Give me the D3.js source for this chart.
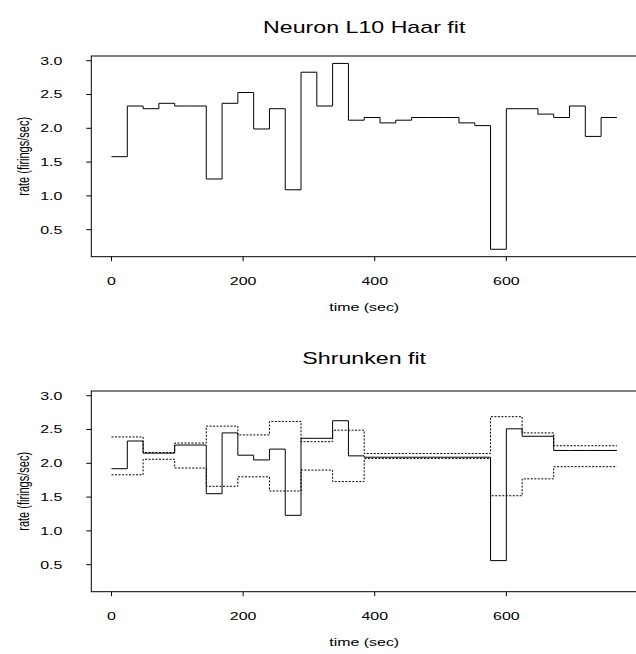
<!DOCTYPE html>
<html>
<head>
<meta charset="utf-8">
<script src="https://cdn.jsdelivr.net/npm/d3@7"></script>
<style>
  body { margin: 0; background: #fff; }
  svg { display: block; font-family: "Liberation Sans", Arial, sans-serif; }
  .axis-line, .tick-mark { stroke: #000; stroke-width: 1; fill: none; }
  .fit { fill: none; stroke: #000; stroke-width: 1; }
  .band { fill: none; stroke: #000; stroke-width: 1; stroke-dasharray: 2,1.5; }
</style>
</head>
<body>
<svg id="chart" width="636" height="654"></svg>
<script>
// bin edges (sec), 32 bins
const times = [0, 24, 48, 72, 96, 120, 144, 168, 192, 216, 240, 264, 288, 312, 336, 360,
  384, 408, 432, 456, 480, 504, 528, 552, 576, 600, 624, 648, 672, 696, 720, 744, 768];

const haarFit = [1.58, 2.33, 2.29, 2.37, 2.33, 2.33, 1.25, 2.37, 2.53, 1.99, 2.29, 1.09,
  2.83, 2.33, 2.96, 2.12, 2.16, 2.08, 2.12, 2.16, 2.16, 2.16, 2.08, 2.04,
  0.21, 2.29, 2.29, 2.21, 2.16, 2.33, 1.88, 2.16];

const shrunkFit = [1.92, 2.33, 2.15, 2.15, 2.27, 2.27, 1.55, 2.45, 2.12, 2.05, 2.21, 1.23,
  2.37, 2.37, 2.63, 2.11, 2.09, 2.09, 2.09, 2.09, 2.09, 2.09, 2.09, 2.09,
  0.56, 2.51, 2.40, 2.40, 2.19, 2.19, 2.19, 2.19];

const shrunkUpper = [2.39, 2.39, 2.16, 2.16, 2.30, 2.30, 2.55, 2.55, 2.42, 2.42, 2.62, 2.62,
  2.32, 2.32, 2.49, 2.49, 2.145, 2.145, 2.145, 2.145, 2.145, 2.145, 2.145, 2.145,
  2.69, 2.69, 2.45, 2.45, 2.26, 2.26, 2.26, 2.26];

const shrunkLower = [1.83, 1.83, 2.06, 2.06, 1.93, 1.93, 1.66, 1.66, 1.80, 1.80, 1.59, 1.59,
  1.90, 1.90, 1.73, 1.73, 2.07, 2.07, 2.07, 2.07, 2.07, 2.07, 2.07, 2.07,
  1.52, 1.52, 1.77, 1.77, 1.95, 1.95, 1.95, 1.95];

const xTicks = [0, 200, 400, 600];
const yTicks = [0.5, 1.0, 1.5, 2.0, 2.5, 3.0];

const SX = 1.45; // picture is stretched sideways

// R style limits: range padded by 4%
function padded(ext) {
  const d = (ext[1] - ext[0]) * 0.04;
  return [ext[0] - d, ext[1] + d];
}

function steps(values) {
  return times.map((t, i) => [t, values[Math.min(i, values.length - 1)]]);
}

class StepPlot {
  constructor(_config) {
    this.config = {
      title: _config.title,
      titleY: _config.titleY,
      top: _config.top,
      height: _config.height || 200.7,
      left: 91.3,
      right: 637.1,
      series: _config.series
    };
    this.initVis();
  }

  initVis() {
    let vis = this;
    const c = vis.config;
    vis.svg = d3.select("#chart");
    vis.g = vis.svg.append("g");

    vis.xScale = d3.scaleLinear()
      .domain(padded(d3.extent(times)))
      .range([c.left, c.right]);
    vis.yScale = d3.scaleLinear()
      .domain(padded(d3.extent(haarFit)))
      .range([c.top + c.height, c.top]);

    vis.renderVis();
  }

  renderVis() {
    let vis = this;
    const c = vis.config;
    const bottom = c.top + c.height;
    const midX = (c.left + c.right) / 2;

    const line = d3.line()
      .x(d => vis.xScale(d[0]))
      .y(d => vis.yScale(d[1]))
      .curve(d3.curveStepAfter);

    c.series.forEach(s => {
      vis.g.append("path")
        .attr("class", s.cls)
        .attr("d", line(steps(s.values)));
    });

    // box
    vis.g.append("rect")
      .attr("class", "axis-line")
      .attr("x", c.left)
      .attr("y", c.top)
      .attr("width", c.right - c.left)
      .attr("height", c.height);

    // x ticks
    xTicks.forEach(t => {
      const x = vis.xScale(t);
      vis.g.append("line").attr("class", "tick-mark")
        .attr("x1", x).attr("x2", x)
        .attr("y1", bottom).attr("y2", bottom + 4.5);
      vis.g.append("text")
        .attr("transform", `translate(${x},${bottom + 28}) scale(${SX},1)`)
        .attr("text-anchor", "middle")
        .attr("font-size", 11)
        .text(t);
    });

    // y ticks
    yTicks.forEach(v => {
      const y = vis.yScale(v);
      vis.g.append("line").attr("class", "tick-mark")
        .attr("x1", c.left - 5).attr("x2", c.left)
        .attr("y1", y).attr("y2", y);
      vis.g.append("text")
        .attr("transform", `translate(${c.left - 29},${y}) scale(${SX},1)`)
        .attr("text-anchor", "end")
        .attr("dy", "0.36em")
        .attr("font-size", 11)
        .text(d3.format(".1f")(v));
    });

    // titles
    vis.g.append("text")
      .attr("transform", `translate(${midX},${c.titleY}) scale(${SX},1)`)
      .attr("text-anchor", "middle")
      .attr("font-size", 16)
      .text(c.title);

    vis.g.append("text")
      .attr("transform", `translate(${midX},${bottom + 54}) scale(${SX},1)`)
      .attr("text-anchor", "middle")
      .attr("font-size", 11)
      .text("time (sec)");

    vis.g.append("text")
      .attr("transform", `translate(${29},${(c.top + bottom) / 2}) scale(${SX},1) rotate(-90)`)
      .attr("text-anchor", "middle")
      .attr("font-size", 11)
      .text("rate (firings/sec)");
  }
}

new StepPlot({
  title: "Neuron L10 Haar fit",
  titleY: 33,
  top: 56,
  series: [{ values: haarFit, cls: "fit" }]
});

new StepPlot({
  title: "Shrunken fit",
  titleY: 364,
  top: 391,
  series: [
    { values: shrunkUpper, cls: "band" },
    { values: shrunkLower, cls: "band" },
    { values: shrunkFit, cls: "fit" }
  ]
});
</script>
</body>
</html>
